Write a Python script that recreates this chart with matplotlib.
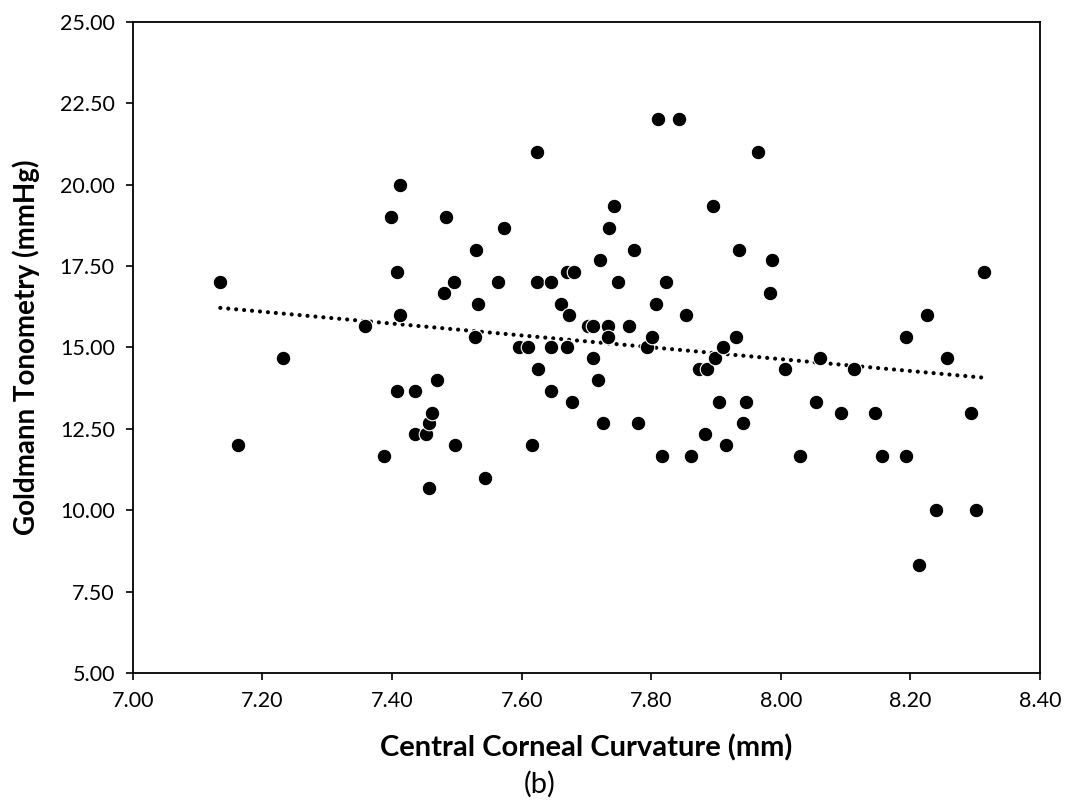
import numpy as np
import matplotlib
matplotlib.use("Agg")
import matplotlib.pyplot as plt

# Central corneal curvature (mm) vs Goldmann tonometry (mmHg)
curvature = [
    7.135, 7.162, 7.232, 7.358, 7.388, 7.398, 7.407, 7.407, 7.412, 7.413,
    7.435, 7.435, 7.453, 7.457, 7.462, 7.457, 7.470, 7.480, 7.483, 7.495,
    7.497, 7.530, 7.533, 7.528, 7.543, 7.563, 7.573, 7.596, 7.610, 7.616,
    7.623, 7.623, 7.626, 7.645, 7.646, 7.646, 7.661, 7.670, 7.670, 7.673,
    7.678, 7.681, 7.703, 7.710, 7.710, 7.718, 7.721, 7.726, 7.733, 7.733,
    7.735, 7.742, 7.748, 7.766, 7.773, 7.780, 7.793, 7.801, 7.808, 7.811,
    7.816, 7.823, 7.843, 7.854, 7.861, 7.873, 7.883, 7.886, 7.896, 7.898,
    7.904, 7.911, 7.915, 7.931, 7.936, 7.942, 7.946, 7.964, 7.983, 7.986,
    8.006, 8.029, 8.055, 8.060, 8.093, 8.113, 8.146, 8.156, 8.193, 8.193,
    8.213, 8.226, 8.239, 8.256, 8.294, 8.301, 8.313,
]
tonometry = [
    17.00, 12.00, 14.67, 15.67, 11.67, 19.00, 17.33, 13.67, 20.00, 16.00,
    13.67, 12.33, 12.33, 12.67, 13.00, 10.67, 14.00, 16.67, 19.00, 17.00,
    12.00, 18.00, 16.33, 15.33, 11.00, 17.00, 18.67, 15.00, 15.00, 12.00,
    21.00, 17.00, 14.33, 15.00, 17.00, 13.67, 16.33, 17.33, 15.00, 16.00,
    13.33, 17.33, 15.67, 15.67, 14.67, 14.00, 17.67, 12.67, 15.67, 15.33,
    18.67, 19.33, 17.00, 15.67, 18.00, 12.67, 15.00, 15.33, 16.33, 22.00,
    11.67, 17.00, 22.00, 16.00, 11.67, 14.33, 12.33, 14.33, 19.33, 14.67,
    13.33, 15.00, 12.00, 15.33, 18.00, 12.67, 13.33, 21.00, 16.67, 17.67,
    14.33, 11.67, 13.33, 14.67, 13.00, 14.33, 13.00, 11.67, 15.33, 11.67,
    8.33, 16.00, 10.00, 14.67, 13.00, 10.00, 17.33,
]

x_ticks = np.arange(7.0, 8.41, 0.2)
y_ticks = np.arange(5.0, 25.01, 2.5)

plt.rcParams['font.family'] = ['Lato', 'DejaVu Sans']

fig = plt.figure(figsize=(10.8, 8.06), dpi=100)
ax = fig.add_axes([0.123, 0.165, 0.840, 0.808])

x = np.array(curvature)
y = np.array(tonometry)
ax.scatter(x, y, s=110, color='black', edgecolors='white', linewidths=0.8, zorder=3)

# linear trendline
slope, intercept = np.polyfit(x, y, 1)
xs = np.array([x.min(), x.max()])
ax.plot(xs, slope * xs + intercept, color='black', linewidth=3.0,
        linestyle=(0, (0.01, 1.9)), dash_capstyle='round', zorder=2)

ax.set_xlim(7.0, 8.4)
ax.set_ylim(5.0, 25.0)
ax.set_xticks(x_ticks)
ax.set_yticks(y_ticks)
ax.set_xticklabels([f'{v:.2f}' for v in x_ticks], fontsize=15.5)
ax.set_yticklabels([f'{v:.2f}' for v in y_ticks], fontsize=15.5)
ax.tick_params(direction='out', length=5, width=1.2, pad=8)
for sp in ax.spines.values():
    sp.set_linewidth(1.3)

ax.set_xlabel('Central Corneal Curvature (mm)', fontsize=21, fontweight='bold', va='center')
ax.set_ylabel('Goldmann Tonometry (mmHg)', fontsize=20, fontweight='bold', va='center')
ax.xaxis.set_label_coords(0.5, -0.115)
ax.yaxis.set_label_coords(-0.117, 0.5)
fig.text(0.5, 1 - 784 / 806, '(b)', ha='center', va='center', fontsize=21)

fig.savefig('out.png', dpi=100, facecolor='white')
